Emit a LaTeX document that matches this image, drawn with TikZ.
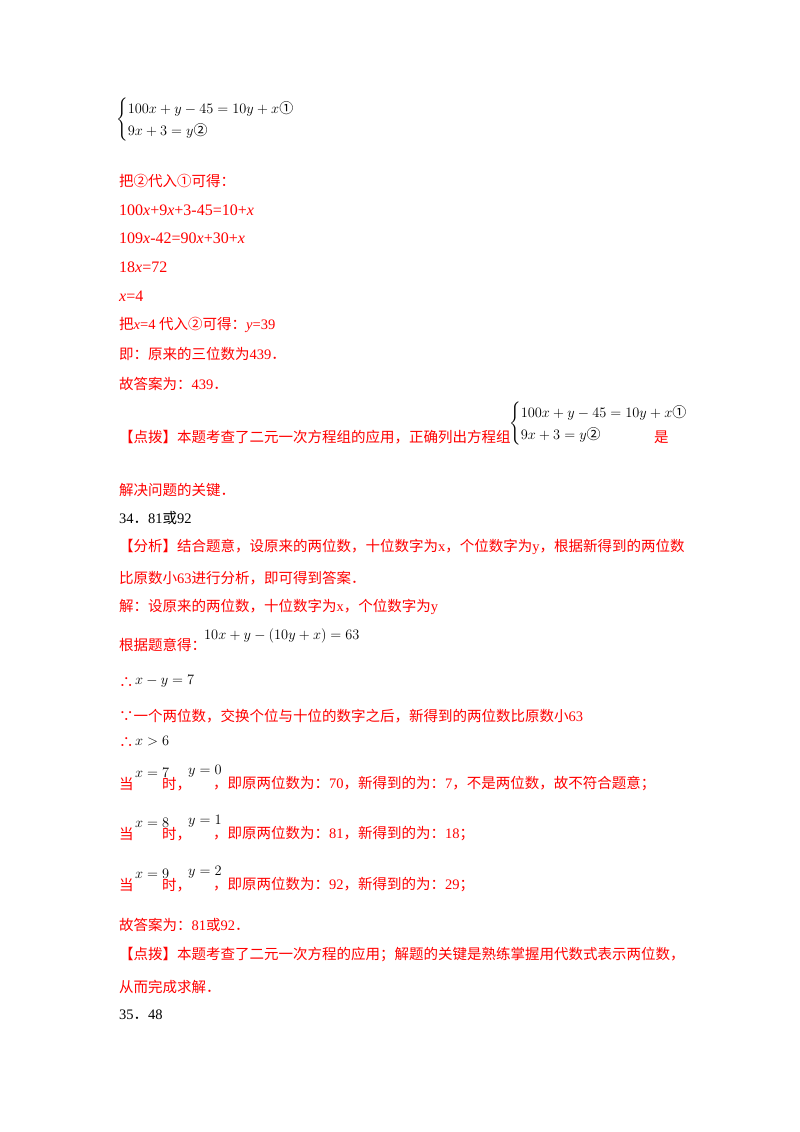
\documentclass[tikz,border=0pt]{standalone}
\usepackage{amsmath}
\usepackage{fontspec}
\setmainfont{Liberation Serif}
\newfontfamily\cjk{Noto Sans CJK SC}
\begin{document}
\begin{tikzpicture}[x=1pt,y=-1pt,
  t/.style={anchor=west,inner sep=0pt,text=red,font=\fontsize{14.5}{18}\selectfont\cjk},
  tb/.style={t,text=black},
  r/.style={anchor=west,inner sep=0pt,text=red,font=\fontsize{16}{18}\selectfont\rmfamily},
  m/.style={anchor=west,inner sep=0pt,font=\fontsize{15.5}{19}\selectfont}]
\useasboundingbox[fill=white] (0,0) rectangle (800,1132);
\newcommand{\cn}[1]{\text{\cjk\fontsize{14}{15}\selectfont #1}}
\newcommand{\sysA}{$\left\{\renewcommand{\arraystretch}{1.2}\begin{array}{@{}l@{}}100x+y-45=10y+x\cn{①}\\ 9x+3=y\cn{②}\end{array}\right.$}
\newcommand{\vx}[1]{{\rmfamily\itshape #1}}
\node[m] (s1) at (116,120) {\sysA};
\node[t] (l1) at (119,181) {把②代入①可得：};
\node[r] (l2) at (119,210) {100\textit{x}+9\textit{x}+3-45=10+\textit{x}};
\node[r] (l3) at (119,238) {109\textit{x}-42=90\textit{x}+30+\textit{x}};
\node[r] (l4) at (119,267) {18\textit{x}=72};
\node[r] (l5) at (119,296) {\textit{x}=4};
\node[t] (l6) at (119,325) {把\vx{x}{\rmfamily =4 }代入②可得：\vx{y}{\rmfamily =39}};
\node[t] (l7) at (119,354) {即：原来的三位数为{\rmfamily 439}．};
\node[t] (l8) at (119,384) {故答案为：{\rmfamily 439}．};
\node[t] (l9) at (119,437) {【点拨】本题考查了二元一次方程组的应用，正确列出方程组};
\node[m] (s2) at (509,424) {\sysA};
\node[t] (l10) at (654,437) {是};
\node[t] (l11) at (119,490) {解决问题的关键．};
\node[tb] (q34) at (119,518) {{\rmfamily 34}．{\rmfamily 81}或{\rmfamily 92}};
\node[t] (a1) at (119,547) {【分析】结合题意，设原来的两位数，十位数字为{\rmfamily x}，个位数字为{\rmfamily y}，根据新得到的两位数};
\node[t] (a2) at (119,578) {比原数小{\rmfamily 63}进行分析，即可得到答案．};
\node[t] (a3) at (119,607) {解：设原来的两位数，十位数字为{\rmfamily x}，个位数字为{\rmfamily y}};
\node[t] (a4) at (119,645) {根据题意得：};
\node[m] (e1) at (204,636) {$10x+y-\left(10y+x\right)=63$};
\node[t] (a5) at (119,683) {∴};
\node[m] (e2) at (135,681) {$x-y=7$};
\node[t] (a6) at (119,716) {∵一个两位数，交换个位与十位的数字之后，新得到的两位数比原数小{\rmfamily 63}};
\node[t] (a7) at (119,743) {∴};
\node[m] (e3) at (135,741) {$x>6$};
\foreach \yy/\xv/\yv/\rest [count=\i] in {784/7/0/{，即原两位数为：{\rmfamily 70}，新得到的为：{\rmfamily 7}，不是两位数，故不符合题意；},834/8/1/{，即原两位数为：{\rmfamily 81}，新得到的为：{\rmfamily 18}；},885/9/2/{，即原两位数为：{\rmfamily 92}，新得到的为：{\rmfamily 29}；}}{
  \node[t] (d\i) at (119,\yy) {当};
  \node[m] (dx\i) at (135,\yy-11) {$x=\xv$};
  \node[t] (ds\i) at (162,\yy) {时，};
  \node[m] (dy\i) at (188,\yy-13) {$y=\yv$};
  \node[t] (dr\i) at (213,\yy) {\rest};
}
\node[t] (b1) at (119,925) {故答案为：{\rmfamily 81}或{\rmfamily 92}．};
\node[t] (b2) at (119,955) {【点拨】本题考查了二元一次方程的应用；解题的关键是熟练掌握用代数式表示两位数，};
\node[t] (b3) at (119,987) {从而完成求解．};
\node[tb] (q35) at (119,1015) {{\rmfamily 35}．{\rmfamily 48}};
\end{tikzpicture}
\end{document}
